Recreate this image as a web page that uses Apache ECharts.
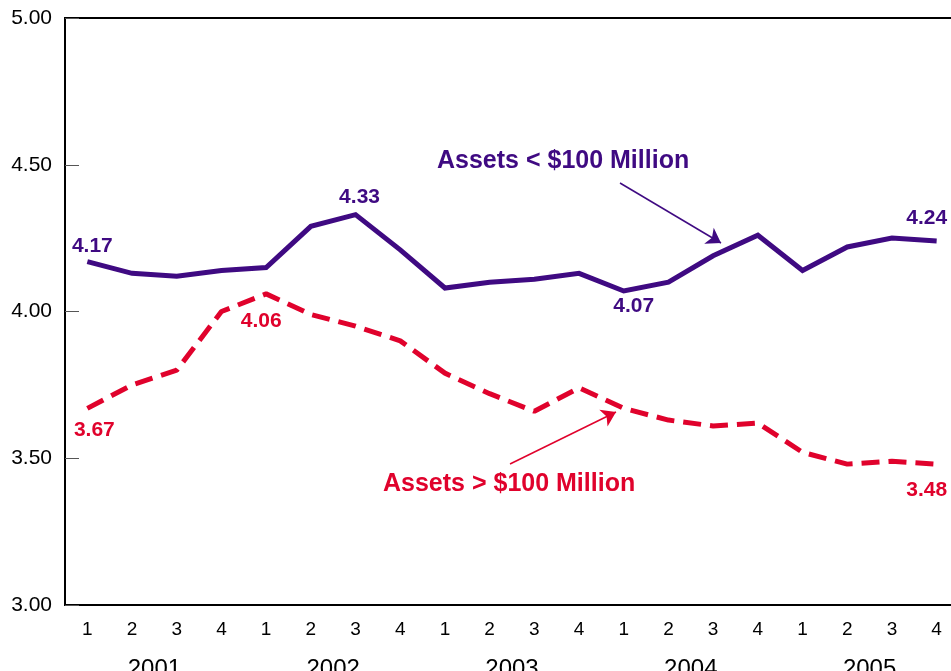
<!DOCTYPE html>
<html>
<head>
<meta charset="utf-8">
<script src="https://cdn.jsdelivr.net/npm/echarts@6/dist/echarts.min.js"></script>
<style>
html,body{margin:0;padding:0;background:#fff;}
#chart{width:951px;height:671px;}
</style>
</head>
<body>
<div id="chart"></div>
<script>
// ---- data ----
const quarters = ['1','2','3','4','1','2','3','4','1','2','3','4','1','2','3','4','1','2','3','4'];
const years = ['2001','2002','2003','2004','2005'];
const smallBanks = [4.17,4.13,4.12,4.14,4.15,4.29,4.33,4.21,4.08,4.10,4.11,4.13,4.07,4.10,4.19,4.26,4.14,4.22,4.25,4.24];
const largeBanks = [3.67,3.75,3.80,4.00,4.06,3.99,3.95,3.90,3.79,3.72,3.66,3.74,3.67,3.63,3.61,3.62,3.52,3.48,3.49,3.48];
const smallLabelIdx = [0, 6, 12, 19];
const largeLabelIdx = [0, 4, 19];
const smallName = 'Assets < $100 Million';
const largeName = 'Assets > $100 Million';

const PURPLE = '#3f0a82';
const RED = '#e0022c';
const FONT = 'Liberation Sans, Arial, sans-serif';

// label placement (layout only)
const smallLabelStyle = {
  0: {position: 'top', offset: [5, 0]},
  6: {position: 'top', offset: [4, -2]},
  12: {position: 'bottom', offset: [10, 0]},
  19: {position: 'top', offset: [-10, -7]}
};
const largeLabelStyle = {
  0: {position: 'bottom', offset: [7, 6]},
  4: {position: 'bottom', offset: [-5, 12]},
  19: {position: 'bottom', offset: [-10, 11]}
};

function buildData(values, idxList, styles, color) {
  return values.map((v, i) => {
    if (idxList.indexOf(i) < 0) return v;
    const s = styles[i];
    return {
      value: v,
      label: {
        show: true,
        position: s.position,
        offset: s.offset,
        distance: 5,
        formatter: (p) => Number(p.value).toFixed(2),
        color: color,
        fontFamily: FONT,
        fontWeight: 'bold',
        fontSize: 21
      }
    };
  });
}

const chart = echarts.init(document.getElementById('chart'), null, {renderer: 'canvas'});
const gridL = 65, gridT = 18, gridW = 894, gridH = 587;

chart.setOption({
  animation: false,
  backgroundColor: '#fff',
  grid: {left: gridL, top: gridT, width: gridW, height: gridH, show: true, borderColor: '#000', borderWidth: 2, backgroundColor: 'transparent', outerBoundsMode: 'none', containLabel: false},
  xAxis: [
    {
      type: 'category',
      data: quarters,
      boundaryGap: true,
      position: 'bottom',
      axisLine: {lineStyle: {color: '#000', width: 2}},
      axisTick: {inside: true, alignWithLabel: true, length: 13, lineStyle: {color: '#333', width: 1}},
      axisLabel: {color: '#000', fontFamily: FONT, fontSize: 19, margin: 15, interval: 0},
      splitLine: {show: false}
    },
    {
      type: 'category',
      data: years,
      boundaryGap: true,
      position: 'bottom',
      gridIndex: 0,
      axisLine: {show: false},
      axisTick: {show: false},
      axisLabel: {color: '#000', fontFamily: FONT, fontSize: 24, margin: 52, interval: 0},
      splitLine: {show: false}
    }
  ],
  yAxis: {
    type: 'value',
    min: 3,
    max: 5,
    interval: 0.5,
    axisLine: {show: true, lineStyle: {color: '#000', width: 2}},
    axisTick: {show: true, inside: true, length: 14, lineStyle: {color: '#555', width: 1}},
    axisLabel: {color: '#000', fontFamily: FONT, fontSize: 21, margin: 13, formatter: (v) => v.toFixed(2)},
    splitLine: {show: false}
  },
  series: [
    {
      name: largeName,
      type: 'line',
      data: buildData(largeBanks, largeLabelIdx, largeLabelStyle, RED),
      showSymbol: true,
      symbol: 'circle',
      symbolSize: 0,
      lineStyle: {color: RED, width: 5, type: [18, 9], cap: 'butt'},
      itemStyle: {color: RED},
      markLine: {
        silent: true,
        symbol: ['none', 'arrow'],
        symbolSize: 14,
        label: {show: false},
        lineStyle: {color: RED, width: 1.5, type: 'solid'},
        data: [[{x: 510, y: 464}, {x: 616, y: 412}]]
      },
      z: 2
    },
    {
      name: smallName,
      type: 'line',
      data: buildData(smallBanks, smallLabelIdx, smallLabelStyle, PURPLE),
      showSymbol: true,
      symbol: 'circle',
      symbolSize: 0,
      lineStyle: {color: PURPLE, width: 5, cap: 'butt', join: 'miter'},
      itemStyle: {color: PURPLE},
      markLine: {
        silent: true,
        symbol: ['none', 'arrow'],
        symbolSize: 14,
        label: {show: false},
        lineStyle: {color: PURPLE, width: 1.5, type: 'solid'},
        data: [[{x: 620, y: 183}, {x: 721, y: 243}]]
      },
      z: 3
    }
  ],
  graphic: [
    {
      type: 'text',
      left: 437,
      top: 149,
      style: {text: smallName, fill: PURPLE, font: 'bold 25px ' + FONT}
    },
    {
      type: 'text',
      left: 383,
      top: 472,
      style: {text: largeName, fill: RED, font: 'bold 25px ' + FONT}
    }
  ]
});
</script>
</body>
</html>
